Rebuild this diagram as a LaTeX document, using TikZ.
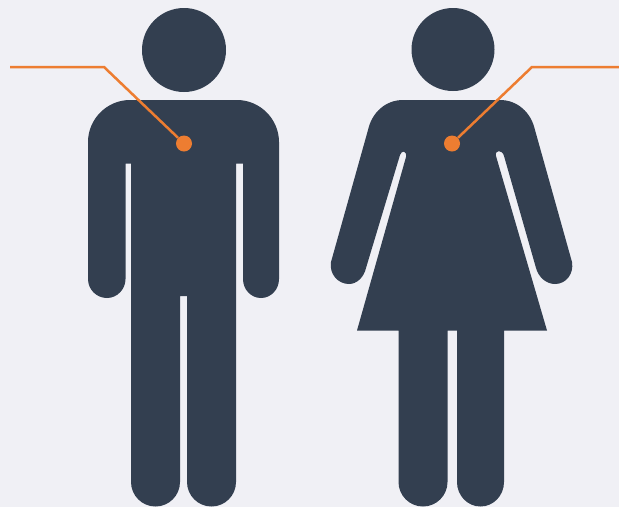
\documentclass[tikz,border=0pt]{standalone}
\usepackage{tikz}

\definecolor{figure-dark}{HTML}{333F50}
\definecolor{callout-orange}{HTML}{ED7D31}
\definecolor{page-bg}{HTML}{F0F0F5}

\begin{document}
\begin{tikzpicture}[
  x=1pt, y=-1pt,
  head/.style={circle, fill=figure-dark, inner sep=0pt},
  body/.style={fill=figure-dark},
  marker/.style={circle, fill=callout-orange, minimum size=16pt, inner sep=0pt},
  callout/.style={callout-orange, line width=2.5pt, line join=miter}
]
  % Background fixes the page size
  \fill[page-bg] (0,0) rectangle (619,507);
  \useasboundingbox (0,0) rectangle (619,507);

  % Heads
  \node[head, minimum size=84pt] (head-m) at (184,50) {};
  \node[head, minimum size=83pt] (head-f) at (453,49.5) {};

  % Man
  \fill[body] (130,100) .. controls (107,100) and (88,119) .. (88,142)
    -- (88,279) .. controls (88,289.5) and (96.5,298) .. (107,298)
    .. controls (117,298) and (125.5,289.5) .. (125.5,279)
    -- (125.5,163.5) -- (131,163.5)
    -- (131,482) .. controls (131,495.5) and (142,506.5) .. (155.5,506.5)
    .. controls (169,506.5) and (180,495.5) .. (180,482)
    -- (180,296) -- (187,296)
    -- (187,482) .. controls (187,495.5) and (198,506.5) .. (211.5,506.5)
    .. controls (225,506.5) and (236,495.5) .. (236,482)
    -- (236,163.5) -- (243,163.5)
    -- (243,279) .. controls (243,289.5) and (251,298) .. (261,298)
    .. controls (271,298) and (279,289.5) .. (279,279)
    -- (279,142) .. controls (279,119) and (260,100) .. (237,100) -- cycle;

  % Woman
  \fill[body] (403,100) .. controls (386,100) and (372,112) .. (368,130)
    -- (331,262) .. controls (329,274) and (338,284) .. (349,284)
    .. controls (357,284) and (364,277) .. (366,268)
    -- (400,155) .. controls (401.5,150) and (407,150.5) .. (406,157)
    -- (357,330.5) -- (398.5,330.5)
    -- (398.5,482) .. controls (398.5,495.5) and (409.5,506.5) .. (423,506.5)
    .. controls (436.5,506.5) and (447.5,495.5) .. (447.5,482)
    -- (447.5,330.5) -- (457,330.5)
    -- (457,482) .. controls (457,495.5) and (467.5,506.5) .. (480.5,506.5)
    .. controls (493.5,506.5) and (504,495.5) .. (504,482)
    -- (504,330.5) -- (547,330.5)
    -- (496,156) .. controls (494.5,149.5) and (502.5,149.5) .. (504,156)
    -- (536,268) .. controls (538.5,277) and (546,284) .. (555,284)
    .. controls (566,284) and (574,274) .. (572,262)
    -- (535,130) .. controls (531,112) and (517,100) .. (500,100) -- cycle;

  % Callouts
  \node[marker] (dot-m) at (184,143.5) {};
  \node[marker] (dot-f) at (452,143.5) {};
  \coordinate (end-m) at (10,67);
  \coordinate (bend-m) at (104,67);
  \coordinate (end-f) at (619,67);
  \coordinate (bend-f) at (532,67);
  \draw[callout] (end-m) -- (bend-m) -- (dot-m);
  \draw[callout] (end-f) -- (bend-f) -- (dot-f);

\end{tikzpicture}
\end{document}
